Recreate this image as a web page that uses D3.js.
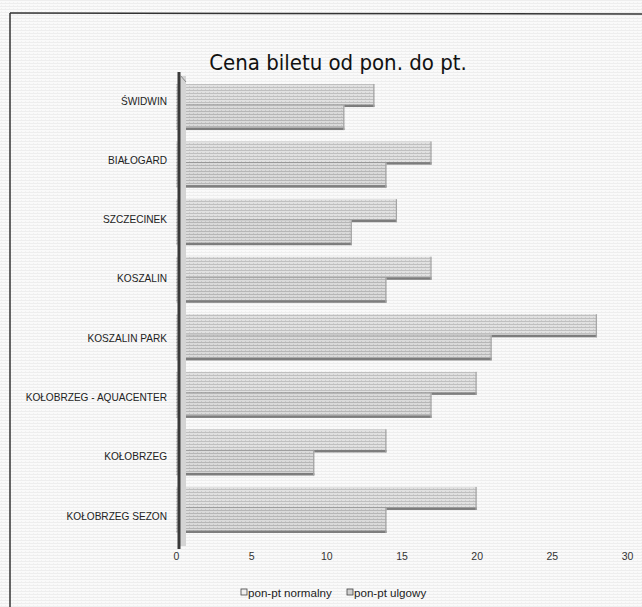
<!DOCTYPE html>
<html>
<head>
<meta charset="utf-8">
<script src="https://cdn.jsdelivr.net/npm/d3@7/dist/d3.min.js"></script>
<style>
  html, body { margin: 0; padding: 0; background: #ffffff; }
  svg { display: block; }
</style>
</head>
<body>
<script>
const categories = ["ŚWIDWIN", "BIAŁOGARD", "SZCZECINEK", "KOSZALIN", "KOSZALIN PARK", "KOŁOBRZEG - AQUACENTER", "KOŁOBRZEG", "KOŁOBRZEG SEZON"];
const seriesNames = ["pon-pt normalny", "pon-pt ulgowy"];
const normalny = [13.2, 17, 14.7, 17, 28, 20, 14, 20];
const ulgowy   = [11.2, 14, 11.7, 14, 21, 17, 9.2, 14];
const xTicks = [0, 5, 10, 15, 20, 25, 30];
const title = "Cena biletu od pon. do pt.";

const W = 642, H = 607;
const svg = d3.select("body").append("svg").attr("width", W).attr("height", H);

// halftone-like patterns
const defs = svg.append("defs");
function pat(id, bg, line, dot) {
  const p = defs.append("pattern").attr("id", id).attr("patternUnits", "userSpaceOnUse")
    .attr("width", 4).attr("height", 3);
  p.append("rect").attr("width", 4).attr("height", 3).attr("fill", bg);
  p.append("rect").attr("y", 0).attr("width", 4).attr("height", 1).attr("fill", line);
  p.append("rect").attr("x", 1).attr("y", 2).attr("width", 1).attr("height", 1).attr("fill", dot);
}
pat("pN", "#e1e1e1", "#bfbfbf", "#cccccc");
pat("pU", "#dadada", "#b6b6b6", "#c5c5c5");
pat("pBg", "#fafafa", "#eeeeee", "#f1f1f1");

// background & frame
svg.append("rect").attr("width", W).attr("height", H).attr("fill", "url(#pBg)");
svg.append("line").attr("x1", 10).attr("y1", 13).attr("x2", 642).attr("y2", 14).attr("stroke", "#333").attr("stroke-width", 1.5);
svg.append("line").attr("x1", 10).attr("y1", 13).attr("x2", 10).attr("y2", 607).attr("stroke", "#333").attr("stroke-width", 1.5);

// title
svg.append("text").attr("x", 338).attr("y", 70).attr("text-anchor", "middle")
  .attr("font-family", "'Liberation Sans Narrow', 'DejaVu Sans Condensed', sans-serif")
  .attr("font-size", 22).attr("fill", "#111").text(title);

// scales
const x = d3.scaleLinear().domain([0, 30]).range([176, 627]);
const y = d3.scaleBand().domain(categories).range([84, 533]).paddingInner(0.2).paddingOuter(0);
const ys = d3.scaleBand().domain(seriesNames).range([0, y.bandwidth()]).paddingInner(0);
const yLabel = d3.scalePoint().domain(categories).range([101, 516]);

const data = categories.map((c, i) => ({ cat: c, vals: [normalny[i], ulgowy[i]] }));

// bars: normalny first, ulgowy on top of it
const fills = ["url(#pN)", "url(#pU)"];
const g = svg.append("g");
seriesNames.forEach((s, si) => {
  const gs = g.append("g");
  data.forEach(d => {
    const top = y(d.cat) + ys(s) - (si === 1 ? 2 : 0);
    const h = ys.bandwidth() + (si === 1 ? 2 : 0);
    gs.append("rect").attr("x", x(0)).attr("y", top)
      .attr("width", x(d.vals[si]) - x(0)).attr("height", h)
      .attr("fill", fills[si]);
    // 3D bottom edge
    gs.append("rect").attr("x", x(0) + 6).attr("y", top + h - 2.5)
      .attr("width", Math.max(0, x(d.vals[si]) - x(0) - 6)).attr("height", 2.5)
      .attr("fill", "#7d7d7d");
    // right end edge
    gs.append("rect").attr("x", x(d.vals[si]) - 1.2).attr("y", top)
      .attr("width", 1.2).attr("height", h).attr("fill", "#a5a5a5");
  });
});

// axis wall
svg.append("rect").attr("x", 180).attr("y", 76).attr("width", 6).attr("height", 470).attr("fill", "#d4d4d4");
svg.append("line").attr("x1", 179).attr("y1", 72).attr("x2", 179).attr("y2", 549)
  .attr("stroke", "#3a3a3a").attr("stroke-width", 3);
svg.append("line").attr("x1", 180).attr("y1", 75).attr("x2", 186).attr("y2", 82)
  .attr("stroke", "#888").attr("stroke-width", 1);

// category labels
svg.append("g").selectAll("text").data(categories).join("text")
  .attr("x", 167).attr("y", d => yLabel(d)).attr("dy", "0.35em")
  .attr("text-anchor", "end")
  .attr("font-family", "'Liberation Sans', Arial, sans-serif")
  .attr("font-size", 10.1).attr("fill", "#222").text(d => d);

// x axis labels
const xAxis = d3.axisBottom(x).tickValues(xTicks).tickSize(0).tickPadding(0);
const ga = svg.append("g").attr("transform", "translate(0,553)").call(xAxis);
ga.select(".domain").remove();
ga.selectAll("text").attr("font-family", "'Liberation Sans', Arial, sans-serif")
  .attr("font-size", 10.5).attr("fill", "#333");

// legend
const legend = svg.append("g").attr("font-family", "'Liberation Sans', Arial, sans-serif")
  .attr("font-size", 11.6).attr("fill", "#222");
const legX = [241, 347];
seriesNames.forEach((s, i) => {
  legend.append("rect").attr("x", legX[i]).attr("y", 589).attr("width", 6).attr("height", 6)
    .attr("fill", i === 0 ? "#f0f0f0" : "#cfcfcf").attr("stroke", "#444").attr("stroke-width", 0.8);
  legend.append("text").attr("x", legX[i] + 7).attr("y", 597).text(s);
});
</script>
</body>
</html>
